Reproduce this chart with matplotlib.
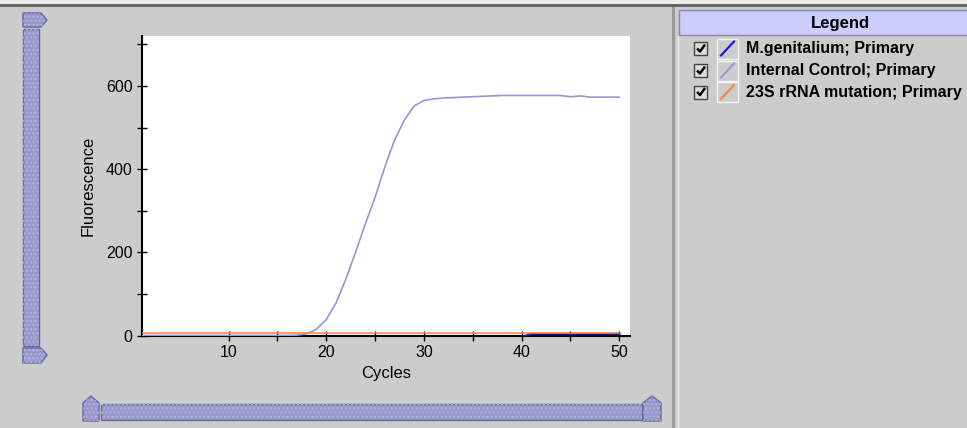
"""
Curva di amplificazione qPCR - ricostruzione del pannello con legenda.
"""

import matplotlib
matplotlib.use("Agg")
import matplotlib.pyplot as plt
from matplotlib.patches import Rectangle, Polygon

# Dati
cycles = list(range(1, 51))
internal_control = [0, 0, 0, 0, 0, 0, 0, 0, 0, 0,
                    0, 0, 0, 0, 0, 0, 1, 4, 15, 38,
                    78, 135, 200, 268, 332, 405, 470, 518, 552, 565,
                    569, 571, 572, 573, 574, 575, 576, 577, 577, 577,
                    577, 577, 577, 577, 574, 576, 573, 573, 573, 573]
mg_values = [-4] * 40 + [3.5, 3.5, 3.5, 3.5, 3.5, 3.5, 3.5, 3.5, 3.5, 3.5]
rrna_values = [6] * 50

series_names = ["M.genitalium; Primary", "Internal Control; Primary",
                "23S rRNA mutation; Primary"]
series_colors = ["#1010e8", "#9696d6", "#ff7f40"]

x_major = [10, 20, 30, 40, 50]
x_minor = [15, 25, 35, 45]
y_major = [0, 200, 400, 600]
y_minor = [100, 300, 500, 700]

W, H = 967, 428
BG = "#cccccc"
FONT = "Liberation Sans"

fig = plt.figure(figsize=(W / 100, H / 100), dpi=100)
fig.patch.set_facecolor(BG)

# Overlay in pixel per le decorazioni
ov = fig.add_axes([0, 0, 1, 1], zorder=0)
ov.set_xlim(0, W)
ov.set_ylim(H, 0)
ov.axis("off")

# Assi del grafico
left, right, top, bottom = 141.6, 630, 36, 335.5
ax = fig.add_axes([left / W, (H - bottom) / H, (right - left) / W, (bottom - top) / H],
                  zorder=2)
ax.set_facecolor("white")
ax.plot(cycles, internal_control, color=series_colors[1], lw=1.2, zorder=3)
ax.plot(cycles, mg_values, color="#1a1ab0", lw=1.6, zorder=4)
ax.plot(cycles, rrna_values, color=series_colors[2], lw=1.1, zorder=5)
ax.set_xlim(1.1, 51.1)
ax.set_ylim(0, 720)
for s in ["top", "right"]:
    ax.spines[s].set_visible(False)
for s in ["left", "bottom"]:
    ax.spines[s].set_linewidth(1.5)
    ax.spines[s].set_color("black")
    ax.spines[s].set_zorder(2)
ax.set_xticks(x_major)
ax.set_xticks(x_minor, minor=True)
ax.set_yticks(y_major)
ax.set_yticks(y_minor, minor=True)
ax.tick_params(which="both", direction="inout", length=7, width=1, color="black",
               labelsize=11.5, pad=3)
for lab in ax.get_xticklabels() + ax.get_yticklabels():
    lab.set_fontfamily(FONT)
ax.set_xlabel("Cycles", fontsize=12, family=FONT, labelpad=5)
ax.set_ylabel("Fluorescence", fontsize=12, family=FONT, labelpad=7)

# Bordo superiore
ov.add_patch(Rectangle((0, 0), W, 4, fc="#eeeeee", ec="none"))
ov.add_patch(Rectangle((0, 4), W, 3, fc="#666666", ec="none"))

# Separatore verticale
ov.add_patch(Rectangle((672, 7), 3, H, fc="#999999", ec="none"))
ov.plot([678, 678], [36, H], color="#eeeeee", lw=1)

# Intestazione legenda
ov.add_patch(Rectangle((679, 10), 300, 25, fc="#ccccff", ec="#8888aa", lw=1))
ov.text(840, 23, "Legend", ha="center", va="center", fontsize=12,
        fontweight="bold", family=FONT)

# Voci legenda
rows_y = [48.5, 70.5, 92]
for yc, name, col in zip(rows_y, series_names, series_colors):
    ov.add_patch(Rectangle((694, yc - 6.5), 13, 13, fc="#dddddd", ec="#444444", lw=1))
    ov.plot([697, 700, 705], [yc, yc + 3, yc - 4], color="black", lw=1.8,
            solid_capstyle="butt")
    ov.add_patch(Rectangle((717, yc - 10), 21, 20, fc=BG, ec="#f4f4f4", lw=1))
    ov.plot([721, 734], [yc + 7, yc - 7], color=col, lw=1.5)
    ov.text(746, yc, name, ha="left", va="center", fontsize=11.5,
            fontweight="bold", family=FONT)

# Slider
SL_FC, SL_EC = "#9999cc", "#666699"


def slider_patch(shape):
    ov.add_patch(shape(fc=SL_FC, ec=SL_EC, lw=1))
    ov.add_patch(shape(fc="none", ec="#b4b4e0", lw=0, hatch="...."))


slider_patch(lambda **kw: Polygon([(23, 13), (41, 13), (47, 20), (41, 27), (23, 27)], **kw))
slider_patch(lambda **kw: Rectangle((23, 29), 16, 317, **kw))
slider_patch(lambda **kw: Polygon([(23, 348), (41, 348), (47, 355), (41, 363), (23, 363)], **kw))
slider_patch(lambda **kw: Polygon([(83, 421), (83, 403), (91, 396), (99, 403), (99, 421)], **kw))
slider_patch(lambda **kw: Rectangle((101, 404), 541, 16, **kw))
slider_patch(lambda **kw: Polygon([(643, 421), (643, 403), (652, 396), (661, 403), (661, 421)], **kw))

fig.savefig("out.png", dpi=100, facecolor=fig.get_facecolor())
